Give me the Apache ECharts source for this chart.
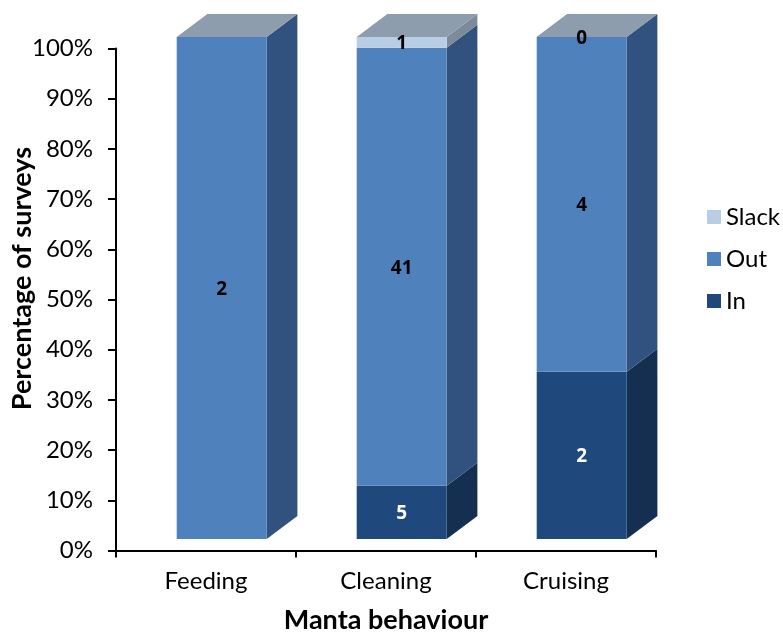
<!DOCTYPE html>
<html>
<head>
<meta charset="utf-8">
<style>
  html, body { margin: 0; padding: 0; background: #fff; }
  #chart { width: 783px; height: 633px; }
</style>
<script src="https://cdn.jsdelivr.net/npm/echarts@6/dist/echarts.min.js"></script>
</head>
<body>
<div id="chart"></div>
<script>
  var categories = ['Feeding', 'Cleaning', 'Cruising'];

  // survey counts, null = no label drawn in the source
  var inCounts = [null, 5, 2];
  var outCounts = [2, 41, 4];
  var slackCounts = [null, 1, 0];

  var legendNames = ['Slack', 'Out', 'In'];
  var yTicks = [0, 10, 20, 30, 40, 50, 60, 70, 80, 90, 100];

  var FONT = 'Lato';
  var DEPTH_X = 30.7, DEPTH_Y = 23;
  var BAR_WIDTH = 90, SHIFT_X = 15.7, SHIFT_Y = -11.4;

  // [category, start %, end %, count]
  function segments(counts, below) {
    var rows = [];
    counts.forEach(function (count, i) {
      if (count === null) return;
      var total = inCounts[i] + outCounts[i] + slackCounts[i];
      var base = 0;
      below.forEach(function (b) { base += b[i] || 0; });
      rows.push([i, base / total * 100, (base + count) / total * 100, count]);
    });
    return rows;
  }

  function barRenderer(front, side, labelColor) {
    return function (params, api) {
      var start = api.coord([api.value(0), api.value(1)]);
      var end = api.coord([api.value(0), api.value(2)]);
      var x0 = start[0] + SHIFT_X - BAR_WIDTH / 2;
      var x1 = x0 + BAR_WIDTH;
      var y0 = start[1] + SHIFT_Y;
      var y1 = end[1] + SHIFT_Y;
      var children = [];

      if (y0 - y1 > 0.01) {
        children.push({
          type: 'polygon',
          shape: { points: [[x1, y0], [x1 + DEPTH_X, y0 - DEPTH_Y], [x1 + DEPTH_X, y1 - DEPTH_Y], [x1, y1]] },
          style: { fill: side }
        });
        children.push({
          type: 'rect',
          shape: { x: x0, y: y1, width: BAR_WIDTH, height: y0 - y1 },
          style: { fill: front }
        });
      }
      if (api.value(2) >= 100) {
        children.push({
          type: 'polygon',
          shape: { points: [[x0, y1], [x0 + DEPTH_X, y1 - DEPTH_Y], [x1 + DEPTH_X, y1 - DEPTH_Y], [x1, y1]] },
          style: { fill: '#8e9dae' }
        });
      }
      children.push({
        type: 'text',
        z2: 10,
        style: {
          text: String(api.value(3)),
          x: (x0 + x1) / 2,
          y: (y0 + y1) / 2 + 1.5,
          align: 'center',
          verticalAlign: 'middle',
          fill: labelColor,
          font: 'bold 19px "Open Sans"'
        }
      });
      return { type: 'group', children: children };
    };
  }

  function barSeries(name, rows, front, side, labelColor) {
    return {
      name: name,
      type: 'custom',
      coordinateSystem: 'cartesian2d',
      itemStyle: { color: front },
      encode: { x: 0, y: [1, 2] },
      data: rows,
      renderItem: barRenderer(front, side, labelColor)
    };
  }

  var chart = echarts.init(document.getElementById('chart'));

  chart.setOption({
    animation: false,
    backgroundColor: '#fff',
    grid: { left: 116, right: 127, top: 48.5, bottom: 82.5, outerBoundsMode: 'none' },
    legend: {
      orient: 'vertical',
      left: 702,
      top: 200,
      data: legendNames,
      icon: 'rect',
      itemWidth: 14,
      itemHeight: 14,
      itemGap: 18,
      textStyle: { fontFamily: FONT, fontSize: 24, color: '#000', lineHeight: 22 }
    },
    xAxis: {
      type: 'category',
      data: categories,
      name: 'Manta behaviour',
      nameLocation: 'middle',
      nameGap: 56,
      nameTextStyle: { fontFamily: FONT, fontSize: 27, fontWeight: 'bold', color: '#000' },
      axisLine: { lineStyle: { color: '#000', width: 2 } },
      axisTick: { show: true, alignWithLabel: false, length: 7, lineStyle: { color: '#000', width: 2 } },
      axisLabel: { fontFamily: FONT, fontSize: 24, color: '#000', margin: 19 }
    },
    yAxis: {
      type: 'value',
      min: yTicks[0],
      max: yTicks[yTicks.length - 1],
      interval: yTicks[1] - yTicks[0],
      name: 'Percentage of surveys',
      nameLocation: 'middle',
      nameGap: 80,
      nameMoveOverlap: false,
      nameTextStyle: { fontFamily: FONT, fontSize: 27, fontWeight: 'bold', color: '#000', padding: [0, 0, 0, 42] },
      splitLine: { show: false },
      axisLine: { show: true, lineStyle: { color: '#000', width: 2 } },
      axisTick: { show: true, length: 8, lineStyle: { color: '#000', width: 2 } },
      axisLabel: {
        fontFamily: FONT, fontSize: 24, color: '#000', margin: 23,
        formatter: function (v) { return v + '%'; }
      }
    },
    series: [
      barSeries('In', segments(inCounts, []), '#1f497d', '#152f51', '#fff'),
      barSeries('Out', segments(outCounts, [inCounts]), '#4f81bd', '#31527f', '#000'),
      barSeries('Slack', segments(slackCounts, [inCounts, outCounts]), '#b9cde5', '#7d8a99', '#000')
    ]
  });
</script>
</body>
</html>
